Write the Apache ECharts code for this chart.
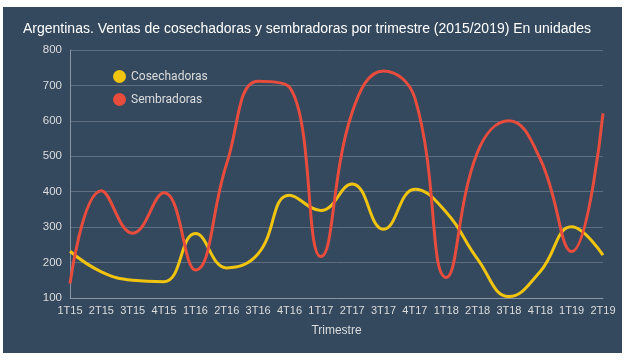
<!DOCTYPE html>
<html>
<head>
<meta charset="utf-8">
<script src="https://cdn.jsdelivr.net/npm/echarts@6/dist/echarts.min.js"></script>
<style>
html,body{margin:0;padding:0;background:#fff;width:628px;height:361px;overflow:hidden;}
#chart{position:absolute;left:3px;top:7px;width:619px;height:346px;}
</style>
</head>
<body>
<div id="chart"></div>
<script>
var categories = ['1T15','2T15','3T15','4T15','1T16','2T16','3T16','4T16','1T17','2T17','3T17','4T17','1T18','2T18','3T18','4T18','1T19','2T19'];
var cosechadoras = [232, 174, 150, 146, 282, 185, 225, 390, 347, 422, 294, 407, 342, 210, 104, 175, 301, 221];
var sembradoras = [141, 403, 283, 397, 179, 480, 712, 695, 217, 624, 741, 664, 158, 512, 600, 492, 231, 621];
var yTicks = [100, 200, 300, 400, 500, 600, 700, 800];

var chart = echarts.init(document.getElementById('chart'));
var font = '"Liberation Sans", Arial, sans-serif';
var legendFont = 'Roboto, "Liberation Sans", Arial, sans-serif';
chart.setOption({
  backgroundColor: '#34495e',
  animation: false,
  title: {
    text: 'Argentinas. Ventas de cosechadoras y sembradoras por trimestre (2015/2019) En unidades',
    left: 15, top: 10,
    textStyle: {color: '#ffffff', fontSize: 14, fontWeight: 'normal', fontFamily: font}
  },
  legend: {
    orient: 'vertical',
    left: 105, top: 58,
    itemGap: 10,
    itemWidth: 13, itemHeight: 13,
    icon: 'circle',
    textStyle: {color: '#dddddd', fontSize: 12, fontFamily: legendFont},
    data: ['Cosechadoras', 'Sembradoras']
  },
  grid: {left: 67, right: 19, top: 43, bottom: 55},
  xAxis: {
    type: 'category',
    data: categories,
    boundaryGap: false,
    name: 'Trimestre',
    nameLocation: 'middle',
    nameGap: 27,
    nameTextStyle: {color: '#dddddd', fontSize: 12, fontFamily: font},
    axisLine: {lineStyle: {color: '#8a96a3', width: 1}},
    axisTick: {show: false},
    axisLabel: {color: '#dddddd', fontSize: 11, fontFamily: font, margin: 7, interval: 0},
    splitLine: {show: false}
  },
  yAxis: {
    type: 'value',
    min: yTicks[0], max: yTicks[yTicks.length - 1], interval: 100,
    axisLine: {show: true, lineStyle: {color: '#8a96a3', width: 1}},
    axisTick: {show: false},
    axisLabel: {color: '#dddddd', fontSize: 11.5, fontFamily: font, margin: 8},
    splitLine: {lineStyle: {color: '#5f6f80', width: 1}}
  },
  series: [
    {
      name: 'Cosechadoras', type: 'line', data: cosechadoras, smooth: 0.45,
      showSymbol: false, symbol: 'circle',
      lineStyle: {color: '#f1c40f', width: 3}, itemStyle: {color: '#f1c40f'}
    },
    {
      name: 'Sembradoras', type: 'line', data: sembradoras, smooth: 0.45,
      showSymbol: false, symbol: 'circle',
      lineStyle: {color: '#e74c3c', width: 3}, itemStyle: {color: '#e74c3c'}
    }
  ]
});
</script>
</body>
</html>
